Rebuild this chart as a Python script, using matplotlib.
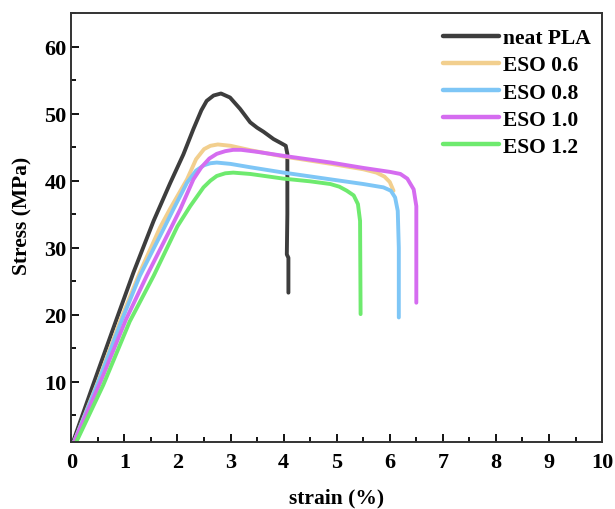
import matplotlib.pyplot as plt
from matplotlib.ticker import MultipleLocator

plt.rcParams['font.family'] = ['Liberation Serif', 'DejaVu Serif']
plt.rcParams['font.weight'] = 'bold'

# strain (%) / stress (MPa)
pla_x = [0.03, 0.43, 0.85, 1.17, 1.55, 1.86, 2.11, 2.30, 2.45, 2.55, 2.68, 2.82, 2.99, 3.18,
         3.37, 3.50, 3.62, 3.81, 3.95, 4.04, 4.07, 4.07, 4.06, 4.09, 4.09]
pla_y = [1.0, 10.0, 19.3, 26.3, 34.0, 39.6, 43.9, 47.7, 50.5, 51.9, 52.7, 53.0, 52.4, 50.7,
         48.7, 47.9, 47.3, 46.2, 45.6, 45.2, 44.0, 35.0, 29.0, 28.5, 23.3]

eso06_x = [0.05, 0.50, 0.93, 1.30, 1.67, 1.86, 2.18, 2.35, 2.50, 2.62, 2.76, 3.0, 3.4, 4.0,
           4.9, 5.5, 5.75, 5.90, 6.0, 6.07]
eso06_y = [1.0, 10.0, 19.3, 26.5, 33.0, 35.8, 40.2, 43.2, 44.7, 45.2, 45.4, 45.2, 44.5, 43.6,
           42.5, 41.7, 41.2, 40.6, 39.8, 38.5]

eso08_x = [0.05, 0.51, 0.93, 1.29, 1.75, 1.92, 2.18, 2.35, 2.50, 2.62, 2.74, 3.0, 3.37, 4.0,
           4.88, 5.5, 5.88, 6.02, 6.10, 6.15, 6.17, 6.17]
eso08_y = [1.0, 10.0, 18.8, 25.8, 33.0, 35.7, 39.7, 41.5, 42.3, 42.6, 42.7, 42.5, 42.0, 41.2,
           40.2, 39.5, 39.0, 38.5, 37.5, 35.5, 30.0, 19.6]

eso10_x = [0.05, 0.55, 1.03, 1.42, 1.88, 2.05, 2.30, 2.45, 2.60, 2.74, 2.90, 3.05, 3.2, 3.5,
           4.0, 4.89, 5.5, 6.01, 6.2, 6.33, 6.45, 6.5, 6.5]
eso10_y = [1.0, 10.0, 19.3, 25.8, 33.0, 35.7, 40.2, 42.0, 43.3, 44.0, 44.4, 44.6, 44.6, 44.3,
           43.7, 42.7, 41.9, 41.3, 41.0, 40.3, 38.7, 36.2, 21.8]

eso12_x = [0.08, 0.6, 1.1, 1.55, 2.0, 2.24, 2.49, 2.62, 2.74, 2.90, 3.05, 3.37, 4.0, 4.5,
           4.88, 5.05, 5.19, 5.32, 5.40, 5.44, 5.45]
eso12_y = [0.8, 9.5, 19.0, 25.8, 33.2, 36.2, 39.0, 40.0, 40.7, 41.1, 41.2, 41.0, 40.3, 39.9,
           39.5, 39.1, 38.5, 37.8, 36.5, 34.0, 20.1]

series = [
    ('neat PLA', pla_x, pla_y, '#3d3d3d'),
    ('ESO 0.6', eso06_x, eso06_y, '#f2cf8e'),
    ('ESO 0.8', eso08_x, eso08_y, '#7ec6f6'),
    ('ESO 1.0', eso10_x, eso10_y, '#d56cf0'),
    ('ESO 1.2', eso12_x, eso12_y, '#6eea6e'),
]

fig = plt.figure(figsize=(6.15, 5.10), dpi=100)
ax = fig.add_axes([0.116, 0.131, 0.863, 0.8415])

for name, xs, ys, c in series:
    ax.plot(xs, ys, color=c, lw=2.8, label=name, solid_joinstyle='round', solid_capstyle='round')

ax.set_xlim(0, 10)
ax.set_ylim(1, 65)
ax.xaxis.set_major_locator(MultipleLocator(1))
ax.xaxis.set_minor_locator(MultipleLocator(0.5))
ax.set_yticks([10, 20, 30, 40, 50, 60])
ax.yaxis.set_minor_locator(MultipleLocator(5))
ax.tick_params(which='both', direction='in', top=False, right=False, labelsize=16, width=1.3)
ax.tick_params(which='major', length=6)
ax.tick_params(which='minor', length=3.5)
ax.tick_params(axis='x', pad=7)
for s in ax.spines.values():
    s.set_linewidth(1.4)
    s.set_color('#333333')

ax.set_xlabel('strain (%)', fontsize=15.5, fontweight='bold', labelpad=11)
ax.set_ylabel('Stress (MPa)', fontsize=15.5, fontweight='bold')
ax.yaxis.set_label_coords(-0.074, 0.53)

leg = ax.legend(loc='upper right', frameon=False, fontsize=15.5, handlelength=2.6,
                handletextpad=0.2, labelspacing=0.33, borderaxespad=0.3,
                bbox_to_anchor=(1.007, 1.0))
for line in leg.get_lines():
    line.set_linewidth(3.2)

plt.savefig('out.png', dpi=100)
